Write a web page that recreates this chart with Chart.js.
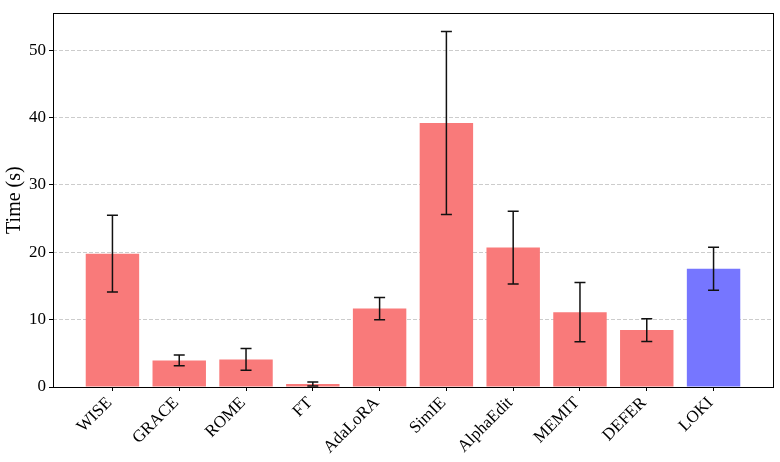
<!DOCTYPE html>
<html><head><meta charset="utf-8">
<script src="https://cdn.jsdelivr.net/npm/chart.js@4/dist/chart.umd.min.js"></script>
<style>html,body{margin:0;padding:0;background:#fff}#wrap{width:780px;height:462px}</style>
</head><body><div id="wrap"><canvas id="c" width="780" height="462"></canvas></div>
<script>
const categories = ['WISE','GRACE','ROME','FT','AdaLoRA','SimIE','AlphaEdit','MEMIT','DEFER','LOKI'];
const timeMean = [19.8, 3.95, 4.1, 0.45, 11.65, 39.2, 20.7, 11.1, 8.45, 17.55];
const timeErr = [5.7, 0.8, 1.6, 0.3, 1.65, 13.6, 5.4, 4.4, 1.7, 3.2];
const yTicks = [0, 10, 20, 30, 40, 50];
const highlight = 'LOKI';

const RED = '#F97A7A', BLUE = '#7676FF';

const errorBars = {
  id: 'errorBars',
  afterDatasetsDraw(chart) {
    const {ctx, scales: {x, y}} = chart;
    ctx.save();
    ctx.strokeStyle = '#111';
    ctx.lineWidth = 1.5;
    categories.forEach((c, i) => {
      const px = x.getPixelForValue(i);
      const lo = y.getPixelForValue(timeMean[i] - timeErr[i]);
      const hi = y.getPixelForValue(timeMean[i] + timeErr[i]);
      ctx.beginPath();
      ctx.moveTo(px, lo); ctx.lineTo(px, hi);
      ctx.moveTo(px - 5.5, lo); ctx.lineTo(px + 5.5, lo);
      ctx.moveTo(px - 5.5, hi); ctx.lineTo(px + 5.5, hi);
      ctx.stroke();
    });
    ctx.restore();
  },
  afterDraw(chart) {
    const {ctx, chartArea: a} = chart;
    ctx.save();
    ctx.strokeStyle = '#000';
    ctx.lineWidth = 1;
    ctx.strokeRect(Math.round(a.left) + 0.5, Math.round(a.top) + 0.5, Math.round(a.right - a.left), Math.round(a.bottom - a.top));
    ctx.restore();
  }
};

Chart.defaults.font.family = "'Liberation Serif', 'DejaVu Serif', serif";
Chart.defaults.font.size = 17;
Chart.defaults.color = '#000';

new Chart(document.getElementById('c'), {
  type: 'bar',
  data: {
    datasets: [{
      data: timeMean.map((v, i) => ({x: i, y: v})),
      backgroundColor: ctx => categories[ctx.dataIndex] === highlight ? BLUE : RED,
      borderWidth: 0,
      barPercentage: 0.8,
      categoryPercentage: 1.0
    }]
  },
  options: {
    responsive: false,
    animation: false,
    devicePixelRatio: 1,
    layout: {padding: {top: 6, right: 7, left: 0, bottom: 0}},
    plugins: {legend: {display: false}, tooltip: {enabled: false}},
    scales: {
      x: {
        type: 'linear',
        offset: false,
        min: -0.89, max: 9.89,
        afterBuildTicks: s => { s.ticks = categories.map((_, i) => ({value: i})); },
        afterFit: s => { s.height = 75; },
        ticks: {
          callback: v => categories[v],
          minRotation: 45, maxRotation: 45,
          autoSkip: false,
          padding: 2,
          labelOffset: -3,
          font: {size: 17}
        },
        grid: {offset: false, drawOnChartArea: false, drawTicks: true, tickLength: 4, tickColor: '#000', tickWidth: 1},
        border: {display: false}
      },
      y: {
        min: 0, max: 55.5,
        afterBuildTicks: s => { s.ticks = yTicks.map(v => ({value: v})); },
        afterFit: s => { s.width = 53; },
        ticks: {padding: 3, font: {size: 17}},
        title: {display: true, text: 'Time (s)', font: {size: 20}, padding: {top: 3, bottom: 4}},
        grid: {color: '#cccccc', lineWidth: 1, drawTicks: true, tickLength: 4, tickColor: '#000', tickBorderDash: [], tickWidth: 1},
        border: {display: false, dash: [4, 2]}
      }
    }
  },
  plugins: [errorBars]
});
</script></body></html>
